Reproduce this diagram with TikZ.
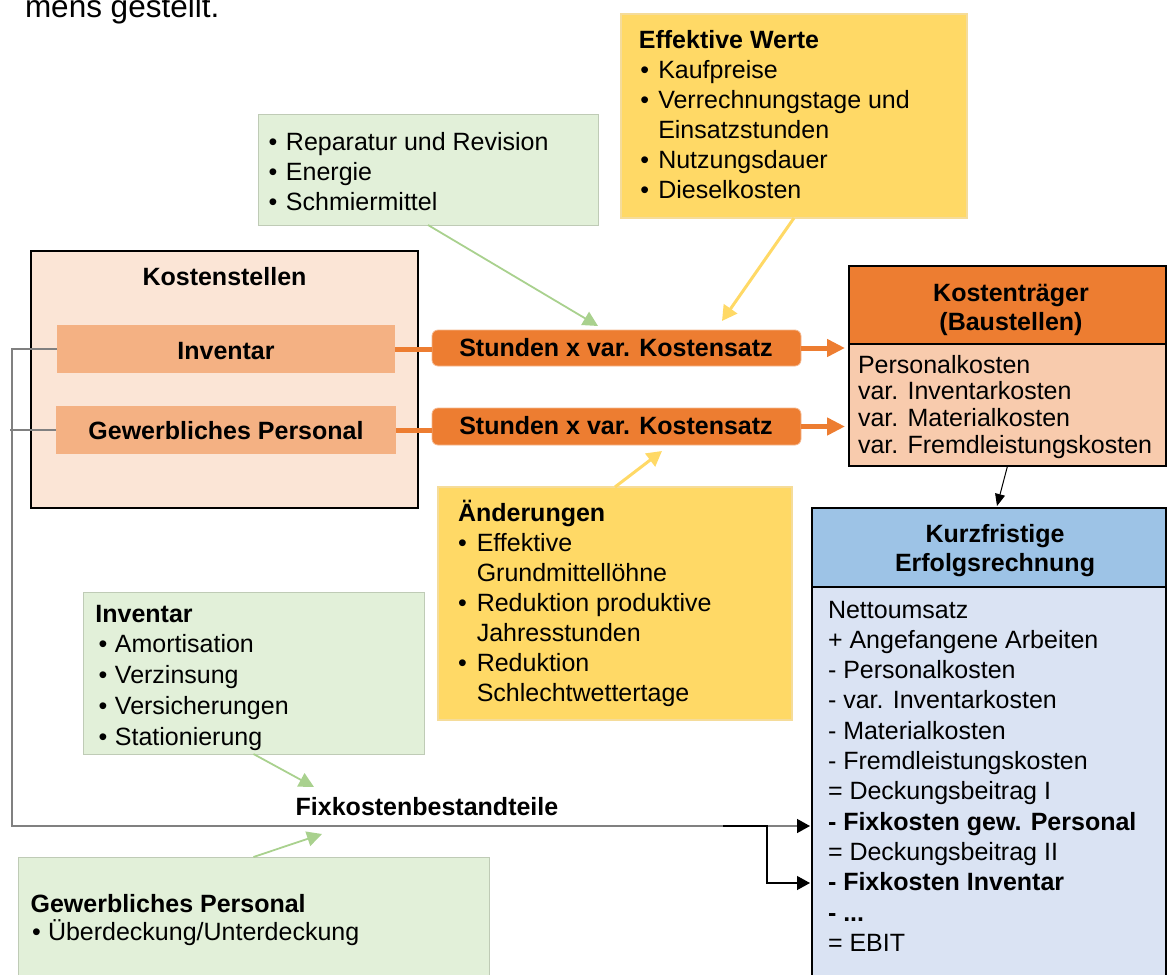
\documentclass[tikz,border=0pt]{standalone}
\usepackage{fontspec}
\setmainfont{Liberation Sans}
\usetikzlibrary{arrows.meta}
\definecolor{peach}{HTML}{FBE5D6}
\definecolor{salmon}{HTML}{F4B183}
\definecolor{orng}{HTML}{ED7D31}
\definecolor{ktbody}{HTML}{F8CBAD}
\definecolor{bluehead}{HTML}{9DC3E6}
\definecolor{bluebody}{HTML}{DAE3F3}
\definecolor{grn}{HTML}{E2F0D9}
\definecolor{grnline}{HTML}{BFCBB6}
\definecolor{ylw}{HTML}{FFD966}
\definecolor{ylwline}{HTML}{F5DC9A}
\definecolor{grnarrow}{HTML}{A9D18E}
\definecolor{grayline}{HTML}{808080}
\newcommand{\tlines}[3]{{\fontsize{25}{#1}\selectfont\begin{tabular}[t]{@{}#2@{}}#3\end{tabular}}}
\newcommand{\blines}[3]{{\fontsize{25}{#1}\selectfont\begin{tabular}[t]{@{}l@{\hspace{#2pt}}l@{}}#3\end{tabular}}}
\newcommand{\btitle}[2]{\multicolumn{2}{@{\hspace{#1pt}}l@{}}{\bfseries #2}}
\tikzset{
  box/.style={anchor=north west, inner sep=0pt, outer sep=0pt},
  gbox/.style={box, fill=grn, draw=grnline, line width=1pt},
  ybox/.style={box, fill=ylw, draw=ylwline, line width=1.2pt},
  kbox/.style={box, draw=black, line width=2pt},
  subbox/.style={box, fill=salmon},
  stbox/.style={box, fill=orng, draw=orng!55!white, line width=0.8pt, rounded corners=6pt},
  grayc/.style={draw=grayline, line width=1.5pt},
  blackc/.style={draw=black, line width=1.2pt},
  oline/.style={draw=orng, line width=5pt},
  oarrow/.style={oline, -{Triangle[length=18pt,width=17pt]}},
  garrow/.style={draw=grnarrow, line width=1.8pt, -{Triangle[length=15pt,width=15pt]}},
  yarrow/.style={draw=ylw, line width=3pt, -{Triangle[length=15pt,width=16pt]}},
  barrow/.style={draw=black, line width=1pt, -{Triangle[length=12pt,width=10pt]}},
  txt/.style={inner sep=0pt, outer sep=0pt, anchor=base west},
  ctxt/.style={inner sep=0pt, outer sep=0pt, anchor=base}
}
\begin{document}
\begin{tikzpicture}[x=1pt, y=-1pt, font=\fontsize{25}{30}\selectfont]
\useasboundingbox (0,0) rectangle (1168,975);

% boxes
\node[gbox, minimum width=340pt, minimum height=111pt] (g1) at (258,114) {};
\node[ybox, minimum width=346pt, minimum height=204pt] (ew) at (621,14) {};
\node[kbox, fill=peach, minimum width=387pt, minimum height=257pt] (ks) at (31,251) {};
\node[subbox, minimum width=338pt, minimum height=48pt] (inv) at (57,325) {};
\node[subbox, minimum width=340pt, minimum height=48pt] (gew) at (56,406) {};
\node[stbox, minimum width=369pt, minimum height=36pt] (st1) at (432,330) {};
\node[stbox, minimum width=369pt, minimum height=37pt] (st2) at (432,408) {};
\node[kbox, fill=orng, minimum width=317pt, minimum height=78pt] (kth) at (849,266) {};
\node[kbox, fill=ktbody, minimum width=317pt, minimum height=122pt] (ktb) at (849,344) {};
\node[ybox, minimum width=354pt, minimum height=233pt] (aend) at (438,487) {};
\node[kbox, fill=bluehead, minimum width=354pt, minimum height=79pt] (kfh) at (812,508) {};
\node[kbox, fill=bluebody, minimum width=354pt, minimum height=400pt] (kfb) at (812,587) {};
\node[gbox, minimum width=341pt, minimum height=162pt] (ginv) at (83,592) {};
\node[gbox, minimum width=471pt, minimum height=130pt] (ggew) at (18,857) {};

% free ends
\coordinate (lx) at (12,826);
\coordinate (gx) at (10,430);
\coordinate (ti1) at (810,826);
\coordinate (ti2) at (810,883);
\coordinate (br) at (723,826);
\coordinate (bv) at (767,826);
\coordinate (gt1) at (598,326);
\coordinate (yt1) at (722,321);
\coordinate (yt2) at (662,451);
\coordinate (gt3) at (314,787);
\coordinate (gt4) at (322,834);
\coordinate (bt) at (997,506);

% connectors
\draw[grayc, -{Triangle[length=13pt,width=14pt,color=black]}] (inv.west) -| (lx) -- (ti1);
\draw[grayc] (gew.west) -- (gew.west -| gx);
\draw[blackc, -{Triangle[length=13pt,width=14pt]}] (br) -- (bv) |- (ti2);
\draw[oline] (inv.east) -- (inv.east -| st1.west);
\draw[oline] (gew.east) -- (gew.east -| st2.west);
\draw[oarrow] (st1.east) -- ([xshift=-4pt]st1.east -| ktb.west);
\draw[oarrow] (st2.east) -- ([xshift=-4pt]st2.east -| ktb.west);
\draw[garrow] (g1.south) -- (gt1);
\draw[yarrow] (ew.south) -- (yt1);
\draw[yarrow] (aend.north) -- (yt2);
\draw[garrow] (ginv.south) -- (gt3);
\draw[garrow] (ggew.north) -- (gt4);
\draw[barrow] (ktb.south) -- (bt);

% texts
\node[txt] (tmens) at (25,17.5) {\fontsize{31.5}{36}\selectfont mens gestellt.};
\node[txt] (tg1) at (268.6,150) {\blines{30}{8.6}{•&Reparatur und Revision\\•&Energie\\•&Schmiermittel}};
\node[txt] (tew) at (640.3,48.5) {\blines{30}{9.2}{\btitle{-1.4}{Effektive Werte}\\•&Kaufpreise\\•&Verrechnungstage und\\&Einsatzstunden\\•&Nutzungsdauer\\•&Dieselkosten}};
\node[ctxt] (tks) at (224.5,285) {\bfseries Kostenstellen};
\node[ctxt] (tinv) at (226,359) {\bfseries Inventar};
\node[ctxt] (tgew) at (226,439) {\bfseries Gewerbliches Personal};
\node[ctxt] (tst1) at (616,356) {\bfseries Stunden x var. Kostensatz};
\node[ctxt] (tst2) at (616,434) {\bfseries Stunden x var. Kostensatz};
\node[ctxt] (tkth) at (1011,301) {\bfseries\tlines{29}{c}{Kostenträger\\(Baustellen)}};
\node[txt] (tktb) at (858,373) {\tlines{26.7}{l}{Personalkosten\\var. Inventarkosten\\var. Materialkosten\\var. Fremdleistungskosten}};
\node[ctxt] (tkfh) at (995,542) {\bfseries\tlines{29}{c}{Kurzfristige\\Erfolgsrechnung}};
\node[txt] (tkfb) at (828,618) {\tlines{30.3}{l}{Nettoumsatz\\+ Angefangene Arbeiten\\- Personalkosten\\- var. Inventarkosten\\- Materialkosten\\- Fremdleistungskosten\\= Deckungsbeitrag I\\\textbf{- Fixkosten gew. Personal}\\= Deckungsbeitrag II\\\textbf{- Fixkosten Inventar}\\\textbf{- ...}\\= EBIT}};
\node[txt] (taend) at (458,521) {\blines{30}{10}{\btitle{0}{Änderungen}\\•&Effektive\\&Grundmittellöhne\\•&Reduktion produktive\\&Jahresstunden\\•&Reduktion\\&Schlechtwettertage}};
\node[txt] (tginv) at (98.6,622) {\blines{30.75}{7.6}{\btitle{-3.2}{Inventar}\\•&Amortisation\\•&Verzinsung\\•&Versicherungen\\•&Stationierung}};
\node[ctxt] (tfix) at (427,815) {\bfseries Fixkostenbestandteile};
\node[txt] (tggew) at (32,912) {\blines{28}{7.25}{\btitle{-1.4}{Gewerbliches Personal}\\•&\smash{Überdeckung/Unterdeckung}}};
\end{tikzpicture}
\end{document}
